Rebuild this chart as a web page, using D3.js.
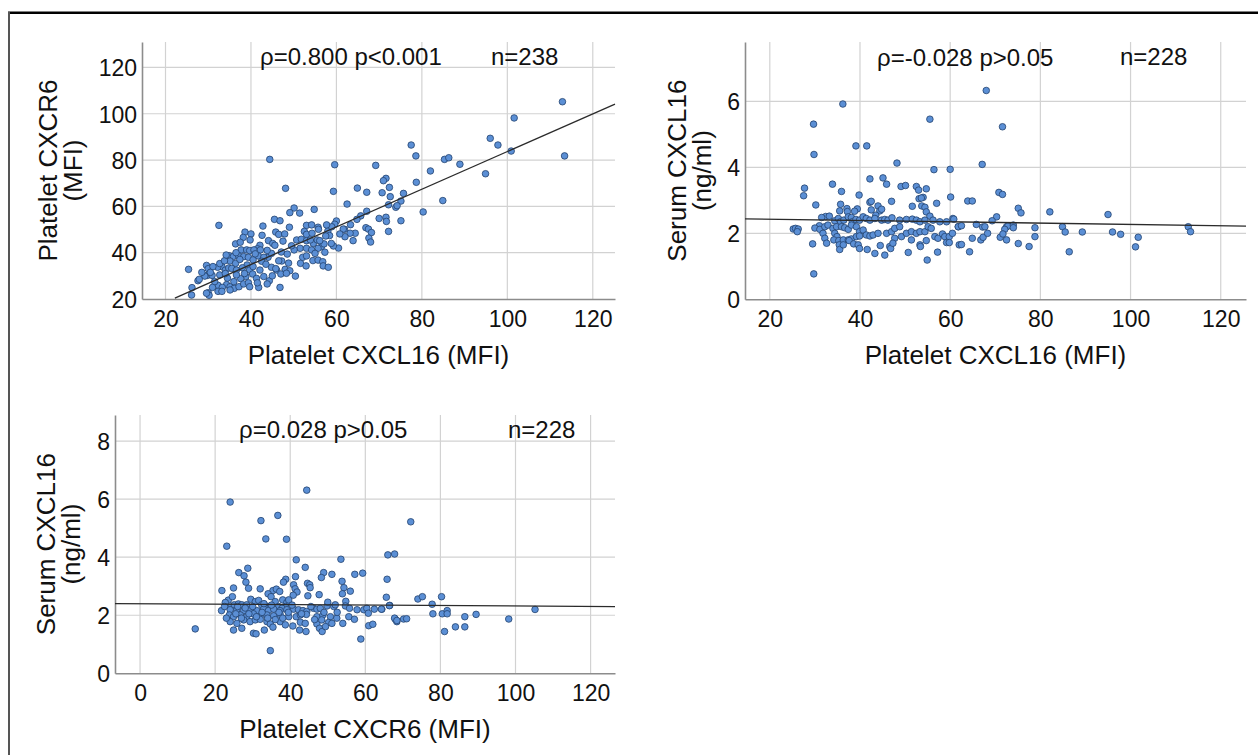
<!DOCTYPE html>
<html><head><meta charset="utf-8">
<script src="https://cdn.jsdelivr.net/npm/d3@7"></script>
<style>
body{margin:0;background:#fff;}
svg{display:block;}
</style></head><body>
<svg id="chart" width="1258" height="755"></svg>
<script>
// ---------- DATA ----------
// Panel 1: Platelet CXCL16 (MFI) vs Platelet CXCR6 (MFI)  [x, y]
const cxcl16VsCxcr6 = [
[44.4,80.3],[48.1,67.8],[50.1,59.3],[49.1,57.3],[51.4,57.1],[32.5,51.8],[45.5,54.4],[46.8,53.8],[42.8,51.5],[49.0,51.0],[53.0,51.8],[38.6,48.9],[40.0,48.1],[45.8,48.9],[46.5,47.9],[47.9,48.1],[42.6,47.5],[38.2,46.6],[52.5,49.2],[53.0,47.9],[44.1,45.2],[45.1,44.0],[36.4,43.8],[42.1,43.2],[45.6,43.2],[50.7,45.5],[51.8,45.8],[53.0,45.2],[41.5,41.7],[37.7,41.2],[39.0,41.2],[39.7,40.9],[40.7,41.2],[42.2,41.2],[34.9,38.7],[47.1,40.3],[51.5,41.9],[53.0,41.9],[35.9,38.4],[37.1,38.7],[38.3,38.3],[39.4,38.0],[41.7,38.6],[44.0,38.0],[44.8,39.7],[43.0,38.0],[48.5,39.4],[50.1,41.2],[52.1,38.0],[53.0,38.6],[35.1,36.4],[36.4,35.4],[37.4,37.1],[39.1,34.7],[40.5,36.9],[42.5,36.3],[33.2,34.0],[47.2,36.4],[51.6,35.4],[52.9,34.3],[25.4,32.8],[29.6,34.5],[30.0,33.1],[32.2,33.7],[34.0,32.5],[34.8,33.4],[35.5,33.2],[36.6,32.5],[39.7,32.5],[42.1,32.5],[44.8,33.7],[46.0,32.5],[48.0,32.8],[49.1,32.2],[45.8,33.1],[29.8,30.2],[30.9,30.2],[29.2,29.9],[27.6,27.9],[38.8,29.7],[40.4,30.8],[41.3,28.9],[43.0,29.7],[44.3,27.9],[37.6,28.8],[47.0,30.8],[48.3,31.1],[50.4,29.9],[36.6,30.4],[32.7,30.4],[32.3,25.9],[34.3,26.2],[35.1,25.3],[36.1,24.6],[37.2,25.3],[38.3,26.5],[39.4,27.0],[41.8,25.0],[43.8,26.5],[46.8,25.0],[33.3,25.0],[39.7,25.3],[26.2,24.9],[26.1,21.7],[30.0,22.7],[30.2,21.6],[32.3,23.3],[33.2,23.3],[35.1,23.9],
[27.9,28.5],[29.6,22.5],[31.1,34.0],[32.7,35.3],[31.5,27.5],[28.5,31.5],[34.5,29.0],[33.8,36.5],[31.0,25.0],[36.0,27.5],[38.0,33.5],[40.5,34.0],[43.5,35.0],[41.0,39.5],[36.5,40.0],[34.2,39.0],[37.5,44.5],[39.8,45.5],[43.8,41.0],[46.5,36.5],[48.8,35.5],[49.5,43.0],[47.5,45.0],[41.5,27.0],[45.0,30.0],[34.0,31.0],[30.5,31.5],[38.5,31.0],
[77.5,86.5],[78.6,81.8],[85.3,80.3],[86.3,81.0],[59.6,78.0],[69.2,77.7],[82.0,75.3],[88.9,78.2],[71.6,72.1],[71.0,71.1],[78.7,70.4],[72.4,68.2],[64.9,67.9],[67.1,66.1],[70.7,65.9],[59.3,66.5],[75.7,65.6],[72.6,64.2],[75.1,62.3],[84.9,62.5],[62.5,61.0],[72.2,60.7],[73.9,59.6],[74.2,60.3],[67.1,57.9],[65.7,55.9],[64.8,54.4],[80.3,57.6],[75.1,53.8],[70.0,54.8],[71.6,55.3],[71.7,53.5],[72.2,49.2],[63.3,52.1],[64.4,48.4],[63.9,45.2],[63.2,48.4],[62.0,46.9],[61.9,50.1],[66.9,50.8],[67.5,50.2],[68.2,48.7],[67.6,46.3],[68.0,44.6],[60.0,53.7],[59.6,52.3],[61.6,50.2],[60.5,42.0],[59.3,42.9],[58.8,44.0],[58.0,49.4],[58.4,47.4],[54.8,58.7],[54.2,52.0],[55.7,51.0],[55.8,50.1],[54.6,44.0],[55.5,45.5],[56.5,42.6],[57.1,43.8],[55.7,41.9],[54.2,41.2],[54.5,36.6],[55.7,36.8],[56.8,36.1],[56.9,34.3],[58.1,33.7],[55.0,39.7],[57.3,40.2],[58.9,51.2],[57.7,52.0],[60.8,48.1],[57.5,47.2],[56.1,45.2],[53.9,45.5],[54.3,48.4],
[112.9,105.2],[101.6,98.2],[96.0,89.4],[97.8,86.5],[100.9,83.9],[113.4,81.8],[94.9,74.1]
];
// Panel 2: Platelet CXCL16 (MFI) vs Serum CXCL16 (ng/ml)
const cxcl16VsSerum = [
[39.1,4.65],[41.5,4.65],[29.8,4.39],[48.2,4.13],[56.4,3.93],[60.0,3.94],[27.7,3.37],[27.5,3.14],[33.9,3.49],[35.9,3.27],[42.2,3.65],[45.1,3.68],[45.9,3.49],[49.1,3.42],[50.1,3.45],[52.5,3.42],[53.0,3.31],[54.7,3.35],[39.8,3.16],[30.2,2.86],[35.7,2.88],[42.2,2.94],[42.5,2.97],[47.0,2.97],[53.1,3.05],[54.0,3.09],[53.6,3.07],[57.0,2.91],[60.1,3.10],
[35.5,2.68],[37.1,2.75],[37.2,2.66],[39.4,2.74],[38.8,2.67],[44.0,2.83],[44.4,2.68],[44.8,2.73],[42.5,2.71],[43.5,2.55],[51.6,2.82],[53.7,2.83],[54.4,2.79],[54.7,2.65],[55.5,2.52],[32.4,2.51],[33.2,2.52],[31.5,2.48],[31.0,2.23],
[34.4,2.38],[35.2,2.45],[35.7,2.35],[36.4,2.40],[37.4,2.50],[38.1,2.48],[38.3,2.35],[39.1,2.42],[39.9,2.40],
[40.7,2.50],[41.4,2.45],[42.2,2.40],[43.3,2.45],[44.8,2.40],[45.5,2.42],[46.2,2.40],[47.1,2.47],
[48.8,2.40],[50.3,2.42],[51.6,2.43],[52.5,2.40],[53.3,2.35],[54.4,2.40],[56.2,2.40],[57.7,2.35],[59.2,2.35],[60.6,2.45],[61.8,2.20],
[25.2,2.13],[25.7,2.15],[26.3,2.13],[26.1,2.05],[30.0,2.16],[31.1,2.12],[31.8,2.00],[32.2,2.20],[32.9,2.25],
[34.0,2.15],[34.8,2.20],[35.9,2.20],[36.6,2.17],[37.4,2.12],[38.1,2.25],[39.2,2.20],[39.9,2.05],[40.7,2.10],
[34.4,2.00],[34.9,1.90],[34.2,1.80],[35.3,1.78],[36.3,1.80],[37.4,1.80],[38.1,1.83],[39.2,1.90],[39.9,1.92],[32.2,1.85],[32.6,1.70],[35.4,1.65],[35.5,1.51],[36.3,1.65],[37.6,1.78],
[41.4,1.95],[42.2,1.92],[42.9,1.95],[44.0,2.00],[45.9,2.00],[47.0,2.05],[47.7,2.15],[48.8,2.20],[49.2,1.90],[50.3,2.00],[51.4,2.05],[52.5,2.00],[53.3,2.05],[54.4,2.05],[55.1,2.20],[55.8,2.15],[56.6,1.90],[57.3,1.85],[58.3,1.98],[58.8,1.90],[59.8,1.90],[60.5,2.00],
[29.5,1.68],[38.6,1.68],[39.6,1.65],[39.9,1.54],[41.6,1.51],
[43.3,1.39],[44.5,1.63],[45.5,1.34],[46.6,1.60],[46.8,1.54],[47.7,1.85],[47.3,1.70],
[50.7,1.42],[51.4,1.80],[53.3,1.65],[53.4,1.60],[54.7,1.78],[54.9,1.19],[57.2,1.43],[59.2,1.72],[59.8,1.72],[62.0,1.65],
[29.75,0.77],[29.7,5.31],[36.2,5.92],[55.5,5.46],
[68.0,6.33],[71.6,5.23],[67.1,4.09],[70.8,3.24],[71.6,3.18],[63.9,2.98],[64.9,2.98],[75.1,2.76],[75.7,2.62],[82.1,2.65],[95.0,2.57],[70.3,2.50],[69.3,2.38],[60.8,2.43],[61.8,2.20],[62.5,2.23],[65.8,2.27],[67.2,2.19],[67.7,2.20],[72.5,2.20],[72.8,2.22],[72.1,2.12],[74.0,2.25],[74.0,2.17],[78.8,2.17],[78.8,1.90],[84.9,2.20],[85.5,2.04],[89.3,2.04],[96.0,2.04],[97.8,1.97],[112.8,2.20],[113.3,2.05],[101.7,1.88],[101.1,1.59],[64.9,1.85],[66.8,1.80],[67.3,1.88],[68.3,2.00],[71.1,1.88],[71.7,1.98],[72.5,1.80],[62.5,1.66],[64.3,1.44],[75.1,1.69],[77.5,1.60],[86.4,1.44]
];
// Panel 3: Platelet CXCR6 (MFI) vs Serum CXCL16 (ng/ml)
const cxcr6VsSerum = [
[32.2,5.26],[23.1,4.38],[33.5,4.63],[39.0,4.62],[41.6,3.91],[53.5,3.93],[28.7,3.62],[26.3,3.47],[27.7,3.36],[44.0,3.65],[48.9,3.47],[48.3,3.30],[51.1,3.41],[57.2,3.41],[59.3,3.45],[66.0,4.08],[67.8,4.11],[65.8,3.24],[41.4,3.33],[38.8,3.24],[38.2,3.14],[28.2,3.14],[28.9,2.93],[24.9,2.94],[21.8,2.85],[32.0,2.91],[35.4,2.85],[36.3,2.90],[37.2,2.82],[34.1,2.74],[34.9,2.64],[40.9,3.05],[41.3,2.91],[41.8,2.80],[40.8,2.69],[44.6,3.10],[45.2,3.05],[45.3,2.95],[44.7,2.67],[47.7,2.71],[53.8,3.17],[54.3,2.95],[56.0,2.83],[53.9,2.74],[54.8,2.48],[65.6,2.62],[66.5,2.34],[38.0,2.53],[39.1,2.44],[39.6,2.53],[38.7,2.30],
[23.5,2.52],[24.6,2.64],[22.7,2.44],[24.2,2.28],[25.1,2.36],[26.2,2.39],[27.1,2.36],[28.4,2.36],[29.5,2.55],[30.7,2.47],[31.6,2.51],[32.4,2.36],[33.6,2.32],[34.7,2.28],[36.0,2.47],[36.9,2.30],[37.8,2.24],
[21.7,2.16],[24.0,2.19],[25.8,2.19],[27.6,2.16],[29.3,2.19],[31.1,2.16],[32.9,2.21],[34.2,2.16],[35.6,2.21],[37.3,2.16],[39.1,2.19],[40.9,2.21],[42.2,2.19],[43.4,2.16],[44.4,2.13],[46.2,2.24],[47.1,2.21],[48.0,2.24],[49.8,2.32],[51.6,2.30],[52.0,2.36],[54.7,2.32],[55.8,2.24],[57.8,2.19],[59.6,2.19],[60.4,2.24],[62.4,2.21],[64.4,2.21],
[23.8,2.01],[24.9,1.95],[26.7,2.01],[28.4,1.95],[30.2,2.05],[32.0,1.95],[33.8,2.01],[35.6,1.98],[37.3,2.03],[39.6,1.95],[41.6,1.95],[42.7,2.01],[44.3,2.03],[47.1,1.95],[48.7,2.01],[50.7,1.95],[52.4,1.90],[55.6,1.95],[57.1,1.86],[60.8,2.07],
[24.0,1.78],[25.8,1.72],[27.6,1.84],[29.3,1.78],[30.7,1.84],[32.0,1.86],[33.8,1.78],[34.7,1.70],[37.3,1.78],[38.7,1.67],[40.7,1.63],[42.7,1.76],[44.0,1.72],[47.1,1.70],[48.4,1.84],[50.2,1.75],[51.1,1.72],[54.0,1.72],[60.9,1.64],[62.0,1.69],[68.0,1.86],[68.4,1.78],
[24.9,1.49],[27.1,1.55],[30.2,1.38],[30.9,1.36],[33.1,1.49],[35.4,1.59],[42.5,1.49],[44.2,1.44],[47.8,1.55],[48.5,1.44],[49.4,1.61],
[34.7,0.78],[58.8,1.18],[14.7,1.53],[24.0,5.90],[36.7,5.44],[44.4,6.31],
[72.1,5.22],[74.0,2.56],[75.2,2.64],[77.8,2.38],[80.3,2.64],[78.0,2.05],[80.5,2.05],[81.8,2.16],[81.8,2.05],[86.5,1.95],[89.5,2.03],[81.1,1.44],[84.0,1.60],[86.5,1.60],[98.2,1.87],[105.2,2.20],[70.2,1.87],[71.0,1.88],[67.8,1.90],[68.4,1.82],[66.4,2.33],[64.3,2.21],
[22.5,2.30],[23.0,1.90],[25.5,2.05],[26.0,2.30],[27.0,1.90],[28.0,2.25],[29.0,2.05],[30.0,2.30],[31.0,1.95],[32.5,2.10],[33.0,2.40],[34.0,1.90],[35.0,2.35],[36.0,1.85],[37.0,2.10],[38.0,1.90],[39.5,2.10],[40.5,2.35],[43.0,2.05],[45.5,2.30],[46.5,1.85],[49.0,2.10],[50.0,2.45],[52.5,2.10]
];
// Fitted regression line end points [x, y]
const fit1 = [[22.2,20.4],[125.2,104.2]];
const fit2 = [[14.5,2.44],[125.6,2.22]];
const fit3 = [[-6.67,2.40],[126.5,2.30]];
// Tick values
const ticksX1 = [20,40,60,80,100,120];
const ticksY1 = [20,40,60,80,100,120];
const ticksX2 = [20,40,60,80,100,120];
const ticksY2 = [0,2,4,6];
const ticksX3 = [0,20,40,60,80,100,120];
const ticksY3 = [0,2,4,6,8];
// Texts
const titlesX = ["Platelet CXCL16 (MFI)","Platelet CXCL16 (MFI)","Platelet CXCR6 (MFI)"];
const titlesY = [["Platelet CXCR6","(MFI)"],["Serum CXCL16","(ng/ml)"],["Serum CXCL16","(ng/ml)"]];
const statsText = ["ρ=0.800 p<0.001","ρ=-0.028 p>0.05","ρ=0.028 p>0.05"];
const nText = ["n=238","n=228","n=228"];

// ---------- LAYOUT ----------
const FONT = "'Liberation Sans', Arial, Helvetica, sans-serif";
const svg = d3.select("#chart");

// outer frame (top + left rules)
svg.append("line").attr("x1",8).attr("x2",1258).attr("y1",12.8).attr("y2",12.8)
  .attr("stroke","#000").attr("stroke-width",2.4);
svg.append("line").attr("x1",9).attr("x2",9).attr("y1",12).attr("y2",755)
  .attr("stroke","#555").attr("stroke-width",2);

const panels = [
  {data:cxcl16VsCxcr6, fit:fit1, xt:ticksX1, yt:ticksY1, left:142, right:615, top:42, bottom:299,
   xd:[14.5,125.2], yd:[20,131], tx:titlesX[0], ty:titlesY[0], ytx:[57,82], xtb:364,
   st:statsText[0], stx:260, sty:65, n:nText[0], nx:491, ny:65},
  {data:cxcl16VsSerum, fit:fit2, xt:ticksX2, yt:ticksY2, left:745, right:1246, top:42, bottom:299.3,
   xd:[14.5,125.6], yd:[0,7.8], tx:titlesX[1], ty:titlesY[1], ytx:[686,711], xtb:364,
   st:statsText[1], stx:877, sty:66, n:nText[1], nx:1120, ny:65},
  {data:cxcr6VsSerum, fit:fit3, xt:ticksX3, yt:ticksY3, left:115, right:615, top:415, bottom:673.3,
   xd:[-6.67,126.5], yd:[0,8.9], tx:titlesX[2], ty:titlesY[2], ytx:[55,80], xtb:738,
   st:statsText[2], stx:239, sty:438, n:nText[2], nx:508, ny:438}
];

panels.forEach(p => {
  const x = d3.scaleLinear().domain(p.xd).range([p.left, p.right]);
  const y = d3.scaleLinear().domain(p.yd).range([p.bottom, p.top]);
  const g = svg.append("g");

  // gridlines
  g.append("g").selectAll("line").data(p.xt).join("line")
    .attr("x1",d=>x(d)).attr("x2",d=>x(d)).attr("y1",p.top).attr("y2",p.bottom)
    .attr("stroke","#d2d2d2").attr("stroke-width",1.2);
  g.append("g").selectAll("line").data(p.yt.filter(d=>d>p.yd[0])).join("line")
    .attr("x1",p.left).attr("x2",p.right).attr("y1",d=>y(d)).attr("y2",d=>y(d))
    .attr("stroke","#d2d2d2").attr("stroke-width",1.2);

  // axes
  const xa = g.append("g").attr("transform",`translate(0,${p.bottom})`)
    .call(d3.axisBottom(x).tickValues(p.xt).tickSize(0).tickSizeOuter(0).tickFormat(d3.format("d")));
  xa.attr("font-family",FONT).attr("font-size",23);
  xa.select(".domain").attr("stroke","#8c8c8c").attr("stroke-width",1.6);
  xa.selectAll("text").attr("y",27.5).attr("dy",0).attr("fill","#111");

  const ya = g.append("g").attr("transform",`translate(${p.left},0)`)
    .call(d3.axisLeft(y).tickValues(p.yt).tickSize(0).tickSizeOuter(0).tickFormat(d3.format("d")));
  ya.attr("font-family",FONT).attr("font-size",23);
  ya.select(".domain").attr("stroke","#8c8c8c").attr("stroke-width",1.6);
  ya.selectAll("text").attr("x",-5).attr("dy","0.36em").attr("fill","#111");

  // points
  g.append("g").selectAll("circle").data(p.data).join("circle")
    .attr("cx",d=>x(d[0])).attr("cy",d=>y(d[1])).attr("r",3.3)
    .attr("fill","#5b8fd5").attr("stroke","#23426e").attr("stroke-width",0.8);

  // regression line
  g.append("path").datum(p.fit)
    .attr("d", d3.line().x(d=>x(d[0])).y(d=>y(d[1])))
    .attr("stroke","#2b2b2b").attr("stroke-width",1.3).attr("fill","none");

  // axis titles
  g.append("text").attr("x",(p.left+p.right)/2).attr("y",p.xtb)
    .attr("text-anchor","middle").attr("font-family",FONT).attr("font-size",26).attr("fill","#111")
    .text(p.tx);
  const cy = (p.top+p.bottom)/2;
  p.ty.forEach((t,i) => {
    g.append("text").attr("transform",`translate(${p.ytx[i]},${cy}) rotate(-90)`)
      .attr("text-anchor","middle").attr("font-family",FONT).attr("font-size",26).attr("fill","#111")
      .text(t);
  });

  // annotations
  g.append("text").attr("x",p.stx).attr("y",p.sty).attr("font-family",FONT).attr("font-size",24)
    .attr("fill","#111").text(p.st);
  g.append("text").attr("x",p.nx).attr("y",p.ny).attr("font-family",FONT).attr("font-size",24)
    .attr("fill","#111").text(p.n);
});
</script>
</body></html>
